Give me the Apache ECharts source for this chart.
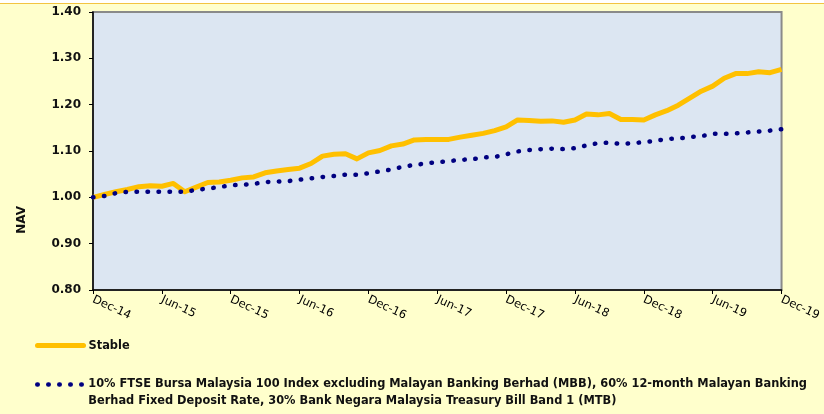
<!DOCTYPE html>
<html lang="en">
<head>
    <meta charset="UTF-8">
    <title>NAV</title>
    <script src="https://cdn.jsdelivr.net/npm/echarts@6/dist/echarts.min.js"></script>
    <style>
        body { margin: 0; background: #fff; }
        #main { position: absolute; left: 0; top: 3px; width: 824px; height: 410px;
                border-top: 1px solid #F3C440; background: #FFFFCC; }
    </style>
</head>
<body>
<div id="main"></div>

<script>
    var months = [
        'Dec-14',
        'Jan-15','Feb-15','Mar-15','Apr-15','May-15','Jun-15','Jul-15','Aug-15','Sep-15','Oct-15','Nov-15','Dec-15',
        'Jan-16','Feb-16','Mar-16','Apr-16','May-16','Jun-16','Jul-16','Aug-16','Sep-16','Oct-16','Nov-16','Dec-16',
        'Jan-17','Feb-17','Mar-17','Apr-17','May-17','Jun-17','Jul-17','Aug-17','Sep-17','Oct-17','Nov-17','Dec-17',
        'Jan-18','Feb-18','Mar-18','Apr-18','May-18','Jun-18','Jul-18','Aug-18','Sep-18','Oct-18','Nov-18','Dec-18',
        'Jan-19','Feb-19','Mar-19','Apr-19','May-19','Jun-19','Jul-19','Aug-19','Sep-19','Oct-19','Nov-19','Dec-19'
    ];

    var stable = [
        1.000,
        1.006, 1.012, 1.017, 1.023, 1.025, 1.024, 1.030, 1.012, 1.022, 1.032, 1.033, 1.037,
        1.042, 1.044, 1.053, 1.057, 1.060, 1.063, 1.073, 1.089, 1.093, 1.094, 1.083, 1.096,
        1.101, 1.111, 1.115, 1.124, 1.125, 1.125, 1.125, 1.130, 1.134, 1.138, 1.144, 1.152,
        1.167, 1.166, 1.164, 1.165, 1.162, 1.167, 1.180, 1.178, 1.181, 1.168, 1.168, 1.167,
        1.178, 1.187, 1.199, 1.214, 1.229, 1.240, 1.257, 1.267, 1.267, 1.271, 1.269, 1.276
    ];

    var benchmark = [
        1.000,
        1.003, 1.009, 1.012, 1.012, 1.012, 1.012, 1.012, 1.012, 1.016, 1.019, 1.022, 1.026,
        1.027, 1.029, 1.033, 1.034, 1.035, 1.038, 1.041, 1.044, 1.046, 1.049, 1.049, 1.052,
        1.056, 1.060, 1.066, 1.070, 1.073, 1.076, 1.078, 1.081, 1.082, 1.086, 1.087, 1.093,
        1.099, 1.102, 1.104, 1.105, 1.104, 1.106, 1.112, 1.117, 1.118, 1.115, 1.117, 1.119,
        1.122, 1.126, 1.127, 1.130, 1.132, 1.137, 1.137, 1.138, 1.140, 1.142, 1.144, 1.147
    ];

    var seriesNames = [
        'Stable',
        '10% FTSE Bursa Malaysia 100 Index excluding Malayan Banking Berhad (MBB), 60% 12-month Malayan Banking Berhad Fixed Deposit Rate, 30% Bank Negara Malaysia Treasury Bill Band 1 (MTB)'
    ];

    var yTicks = [0.80, 0.90, 1.00, 1.10, 1.20, 1.30, 1.40];

    var myChart = echarts.init(document.getElementById('main'));

    var legendText = {
        fontFamily: 'DejaVu Sans',
        fontWeight: 'bold',
        fontSize: 11.4,
        color: '#111'
    };

    var option = {
        backgroundColor: '#FFFFCC',
        animation: false,
        grid: {
            left: 93,
            right: 41,
            top: 8,
            bottom: 124,
            show: true,
            backgroundColor: '#DCE6F2',
            borderColor: '#8A8A8A',
            borderWidth: 2
        },
        graphic: [{
            type: 'text',
            left: 16,
            top: 202,
            rotation: Math.PI / 2,
            style: {
                text: 'NAV',
                fontFamily: 'DejaVu Sans',
                fontWeight: 'bold',
                fontSize: 12,
                fill: '#111'
            }
        }],
        legend: [
            {
                data: [seriesNames[0]],
                left: 35,
                top: 336,
                padding: 0,
                itemWidth: 46,
                itemHeight: 14,
                itemStyle: { opacity: 0 },
                lineStyle: { width: 5, cap: 'round' },
                textStyle: legendText
            },
            {
                data: [seriesNames[1]],
                left: 35,
                top: 355,
                padding: 0,
                itemWidth: 46,
                itemHeight: 14,
                itemStyle: { opacity: 0 },
                lineStyle: { width: 4.5 },
                // blank first line keeps the text's first line level with the icon
                formatter: function (name) {
                    return '\n' + name.replace('Malayan Banking Berhad Fixed', 'Malayan Banking\nBerhad Fixed');
                },
                textStyle: Object.assign({ lineHeight: 17 }, legendText)
            }
        ],
        xAxis: {
            type: 'category',
            data: months,
            boundaryGap: false,
            axisLine: { lineStyle: { color: '#000', width: 1.5 } },
            axisTick: { interval: 5, length: 4, lineStyle: { color: '#000' } },
            axisLabel: {
                interval: 5,
                rotate: -25,
                margin: 9,
                fontFamily: 'DejaVu Sans',
                fontSize: 11.5,
                color: '#000'
            },
            splitLine: { show: false }
        },
        yAxis: {
            type: 'value',
            min: yTicks[0],
            max: yTicks[yTicks.length - 1],
            interval: 0.1,
            axisLine: { show: true, lineStyle: { color: '#000', width: 1.5 } },
            axisTick: { show: true, length: 4, lineStyle: { color: '#000' } },
            axisLabel: {
                margin: 12,
                fontFamily: 'DejaVu Sans',
                fontWeight: 'bold',
                fontSize: 12,
                color: '#111',
                formatter: function (v) { return v.toFixed(2); }
            },
            splitLine: { show: false }
        },
        series: [
            {
                name: seriesNames[0],
                type: 'line',
                data: stable,
                symbol: 'none',
                color: '#FFC000',
                lineStyle: { color: '#FFC000', width: 5, join: 'round' },
                z: 3
            },
            {
                name: seriesNames[1],
                type: 'line',
                data: benchmark,
                symbol: 'none',
                color: '#000080',
                lineStyle: { color: '#000080', width: 4.5, type: [0.5, 10.5], cap: 'round' },
                z: 4
            }
        ]
    };

    myChart.setOption(option);
</script>
</body>
</html>
